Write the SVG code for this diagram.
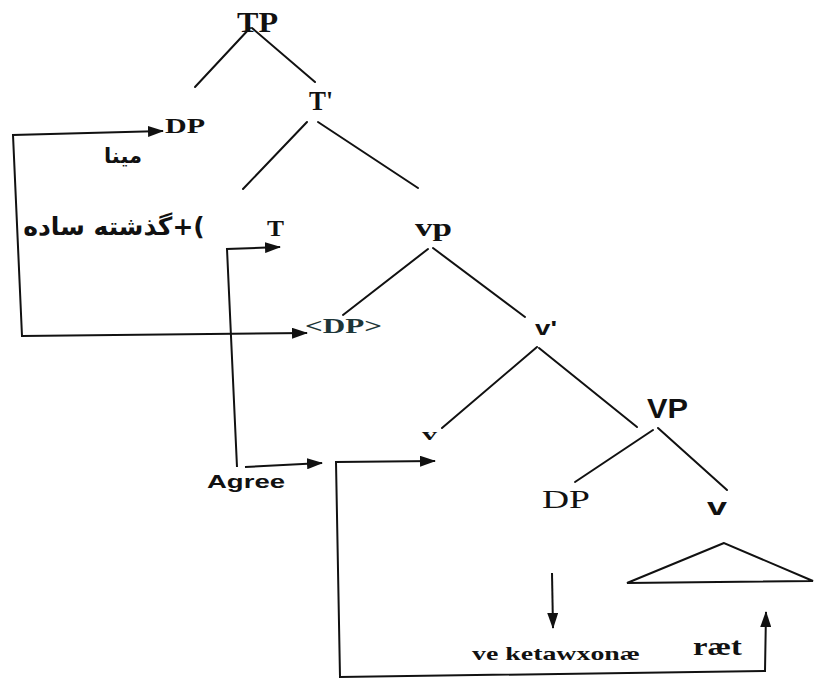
<svg xmlns="http://www.w3.org/2000/svg" width="815" height="680" viewBox="0 0 815 680">
<style>
.ser{font-family:"Liberation Serif","Times New Roman",serif;font-weight:bold;fill:#111}
.serr{font-family:"Liberation Serif","Times New Roman",serif;font-weight:normal;fill:#111}
.san{font-family:"Liberation Sans",Arial,sans-serif;font-weight:bold;fill:#111}
.ar{font-family:"DejaVu Sans","Noto Sans",sans-serif;font-weight:bold;fill:#111}
.edge{stroke:#111;stroke-width:2;fill:none;stroke-linecap:round}
.arr{stroke:#111;stroke-width:2;fill:none;stroke-linejoin:miter}
</style>
<defs>
<marker id="ah" markerUnits="userSpaceOnUse" markerWidth="16" markerHeight="11" refX="15" refY="5.5" orient="auto-start-reverse" viewBox="0 0 16 11">
<path d="M0,0 L16,5.5 L0,11 z" fill="#111"/>
</marker>
</defs>
<rect width="815" height="680" fill="#fff"/>
<g id="connectors">
<path class="edge" d="M250,28 L195,87"/>
<path class="edge" d="M252,28 L315,82"/>
<path class="edge" d="M307,122 L243,189"/>
<path class="edge" d="M318,122 L418,188"/>
<path class="edge" d="M428,249 L343,315"/>
<path class="edge" d="M433,248 L525,317"/>
<path class="edge" d="M537,347 L442,428"/>
<path class="edge" d="M539,348 L637,427"/>
<path class="edge" d="M653,430 L575,482"/>
<path class="edge" d="M658,428 L727,490"/>
<path class="arr" d="M163,131 L13,135 L22,336 L307,333" marker-start="url(#ah)" marker-end="url(#ah)"/>
<path class="arr" d="M237,467 L227,249 L280,247" marker-end="url(#ah)"/>
<path class="arr" d="M245,467 L322,463" marker-end="url(#ah)"/>
<path class="arr" d="M435,461 L336,462 L340,677 L765,671 L766,612" marker-start="url(#ah)" marker-end="url(#ah)"/>
<path class="arr" d="M552,573 L553,628" marker-end="url(#ah)"/>
</g>
<g id="node-TP"><text class="ser" x="237" y="32" font-size="29" textLength="41" lengthAdjust="spacingAndGlyphs">TP</text></g>
<g id="node-Tbar"><text class="ser" x="309" y="110" font-size="27" textLength="24" lengthAdjust="spacingAndGlyphs">T'</text></g>
<g id="node-DP1"><text class="ser" x="165" y="133" font-size="22" textLength="40" lengthAdjust="spacingAndGlyphs">DP</text></g>
<g id="label-mina"><text class="ar" x="123" y="163" font-size="21" text-anchor="middle" direction="rtl" unicode-bidi="embed">مینا</text></g>
<g id="label-past"><text class="ar" x="114" y="235" font-size="25" text-anchor="middle" direction="rtl" unicode-bidi="embed">)+گذشته ساده</text></g>
<g id="node-T"><text class="ser" x="267" y="236" font-size="24" textLength="17" lengthAdjust="spacingAndGlyphs">T</text></g>
<g id="node-vp"><text class="ser" x="415" y="236" font-size="26" textLength="37" lengthAdjust="spacingAndGlyphs">vp</text></g>
<g id="node-DPtrace"><text class="ser" x="305" y="333" font-size="20" textLength="77" lengthAdjust="spacingAndGlyphs" style="fill:#1d3538">&lt;DP&gt;</text></g>
<g id="node-vbar"><text class="san" x="535" y="335" font-size="20" textLength="22" lengthAdjust="spacingAndGlyphs">v'</text></g>
<g id="node-v"><text class="ser" x="422" y="440" font-size="17" textLength="15" lengthAdjust="spacingAndGlyphs">v</text></g>
<g id="node-VP"><text class="san" x="647" y="418" font-size="27" textLength="41" lengthAdjust="spacingAndGlyphs">VP</text></g>
<g id="node-DP2"><text class="serr" x="542" y="508" font-size="26" textLength="48" lengthAdjust="spacingAndGlyphs">DP</text></g>
<g id="node-V"><text class="san" x="707" y="515" font-size="24" textLength="20" lengthAdjust="spacingAndGlyphs">v</text></g>
<g id="node-triangle"><polygon class="edge" points="724,543 627,583 813,581" stroke-linejoin="miter"/></g>
<g id="label-ketawxonae"><text class="ser" x="472" y="660" font-size="19" textLength="168" lengthAdjust="spacingAndGlyphs">ve ketawxonæ</text></g>
<g id="label-raet"><text class="ser" x="693" y="655" font-size="25" textLength="49" lengthAdjust="spacingAndGlyphs">ræt</text></g>
<g id="label-agree"><text class="san" x="207" y="488" font-size="19" textLength="78" lengthAdjust="spacingAndGlyphs">Agree</text></g>
</svg>
